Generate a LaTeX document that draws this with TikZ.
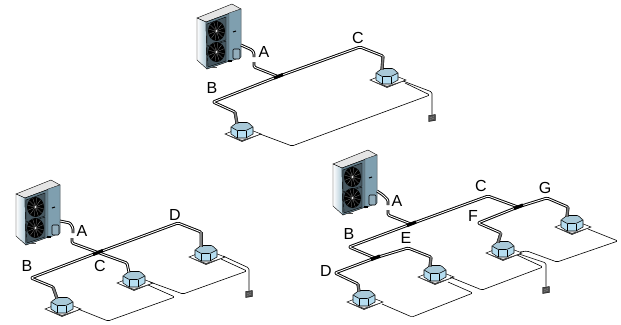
\documentclass[tikz,border=0pt]{standalone}
\usepackage{fontspec}
\setmainfont{Liberation Sans}
\usetikzlibrary{calc}
\definecolor{panelblue}{HTML}{7F9FAF}
\definecolor{sideblue}{HTML}{A9C4D2}
\definecolor{iduside}{HTML}{B5DDF0}
\definecolor{idutop}{HTML}{A9C9D8}
\tikzset{
  x=1pt,y=-1pt,
  pipe/.style={draw=black,line width=.95pt,double=white,double distance=.9pt,rounded corners=1.2pt,line join=round},
  drop/.style={draw=black!85,line width=.7pt,double=black!50,double distance=1.6pt},
  joint/.style={draw=black,line width=3.2pt},
  wire/.style={draw=black,line width=.6pt,rounded corners=1.5pt},
  lbl/.style={font=\fontsize{16}{16}\selectfont,inner sep=0pt,text=black},
}
\newcommand{\oduunit}[3]{%
\begin{scope}[shift={(#2,#3)}]
 \coordinate (#1out) at (44,27);
 \fill[black!10,draw=black,line width=.4pt] (0,0)--(35,-14)--(44,-9)--(9,4)--cycle;
 \shade[left color=white,right color=sideblue,draw=black,line width=.4pt] (0,0)--(9,4)--(10,51)--(0,42)--cycle;
 \fill[panelblue!80!black,draw=black,line width=.4pt] (9,4)--(44,-9)--(44,39)--(10,51)--cycle;
 \fill[panelblue,draw=black!70,line width=.4pt] (32,-5)--(44,-9)--(44,39)--(32,44)--cycle;
 \fill[panelblue!55!black,draw=black,line width=.4pt] (10,6)--(29,-1)--(29,22)--(10,28)--cycle;
 \fill[panelblue!55!black,draw=black,line width=.4pt] (10,29)--(29,23)--(29,43)--(11,49)--cycle;
 \foreach \cy in {13,34}{
  \fill[black] (19.5,\cy) ellipse [x radius=8.5,y radius=10];
  \foreach \a in {10,40,...,340}
   \draw[black!40,line width=.2pt] (19.5,\cy)--++({8*cos(\a)},{9.5*sin(\a)});
  \fill[white] (19.5,\cy) circle (.9);
 }
 \draw[black,line width=1pt] (36,14)--(39,13);
 \draw[black,line width=.6pt,fill=panelblue!85!white,rounded corners=1pt] (36,31) rectangle (43,41);
 \fill[black] (31,42) rectangle (35,43.5);
 \fill[black!70] (14,49) rectangle (20,50);
\end{scope}}
\newcommand{\iduunit}[3]{%
\begin{scope}[shift={(#2,#3)}]
 \coordinate (#1) at (0,0);
 \coordinate (#1drop) at (-6,-10.5);
 \fill[white,draw=black,line width=.5pt] (-18,0)--(0,-7)--(18,0)--(-1,7.5)--cycle;
 \fill[black!75] (-18,0)--(-1,7.5)--(18,0)--(-1,6)--cycle;
 \fill[iduside,draw=black,line width=.55pt] (-12,-7)--(-12,0)--(-6,4)--(3,4)--(10,0)--(10,-7)--cycle;
 \fill[idutop,draw=black,line width=.55pt,rounded corners=1pt] (-12,-7)--(-6,-11.5)--(5,-11.5)--(10,-7)--(3,-3.5)--(-6,-3.5)--cycle;
 \draw[black,line width=.7pt] (-6,-3.5)--(-6,4) (3,-3.5)--(3,4);
\end{scope}}
\newcommand{\remoteunit}[3]{%
\begin{scope}[shift={(#2,#3)}]
 \coordinate (#1) at (0,-3.5);
 \fill[black!70,draw=black,line width=.3pt] (-3.5,-2.5)--(3.5,-3.5)--(3.5,2.5)--(-3.5,3.5)--cycle;
 \draw[white!70!black,line width=.35pt] (-2,-.7)--(2,-1.2) (-2,1.2)--(2,.7);
\end{scope}}
\begin{document}
\begin{tikzpicture}
\useasboundingbox (0,0) rectangle (621,324);
% ---------- top system
\coordinate (tj) at (278,76.5);
\coordinate (ta1) at (252,50);\coordinate (ta2) at (254,53);\coordinate (ta3) at (254,57);
\coordinate (ta4) at (254,62);\coordinate (ta5) at (254,67);
\coordinate (tb1) at (213,102);\coordinate (tb2) at (235,112);
\coordinate (tc1) at (360,47);\coordinate (tc2) at (383,56);
\oduunit{ta}{197}{18}
\iduunit{tb}{243}{134}
\iduunit{tc}{388}{80}
\remoteunit{tr}{432}{118}
\draw[pipe] (taout)--(ta1)--(ta2)--(ta3);
\draw[pipe] (ta4)--(ta5)--(tj);
\draw[pipe] (tj)--(tb1)--(tb2)--(tbdrop);
\draw[pipe] (tj)--(tc1)--(tc2)--(tcdrop);
\draw[drop] (tb2)--(tbdrop);\draw[drop] (tc2)--(tcdrop);
\draw[joint] ($(tj)+(-4,1.6)$)--($(tj)+(5,-2)$);
\coordinate (tw1) at (432,92);\coordinate (tw2) at (260,134);\coordinate (tw3) at (292,146);
\coordinate (tw4) at (430,95);\coordinate (tw5) at (405,83);\coordinate (tw6) at (403,81);
\draw[wire] (tw6)--(tw1)--(tr);
\draw[wire] (tw2)--(tw3)--(tw4)--(tw5);
\node[lbl] (tlA) at (264,52) {A};
\node[lbl] (tlB) at (212,88) {B};
\node[lbl] (tlC) at (358,38) {C};
% ---------- left system
\oduunit{la}{16}{194}
\iduunit{lb}{63}{309}
\iduunit{lc}{135}{283}
\iduunit{ld}{207}{257}
\remoteunit{lr}{249}{294}
\coordinate (lj) at (98,252.5);
\coordinate (la1) at (70,223);\coordinate (la2) at (73,228);\coordinate (la3) at (73,233);
\coordinate (la4) at (72,238);\coordinate (la5) at (72,243);
\coordinate (lb1) at (31,278);\coordinate (lb2) at (53,287);
\coordinate (lc1) at (127,263);
\coordinate (ld1) at (178,223);\coordinate (ld2) at (201,232);
\draw[pipe] (laout)--(la1)--(la2)--(la3);
\draw[pipe] (la4)--(la5)--(lj);
\draw[pipe] (lj)--(lb1)--(lb2)--(lbdrop);
\draw[pipe] (lj)--(lc1)--(lcdrop);
\draw[pipe] (lj)--(ld1)--(ld2)--(lddrop);
\draw[drop] (lb2)--(lbdrop);\draw[drop] (ld2)--(lddrop);
\draw[joint] ($(lj)+(-5,2)$)--($(lj)+(5,-2)$);
\coordinate (lw1) at (223,256);\coordinate (lw2) at (249,268);
\coordinate (lw3) at (247,271);\coordinate (lw4) at (183,294);\coordinate (lw5) at (150,282);\coordinate (lw6) at (221,259);
\coordinate (lw7) at (148,285);\coordinate (lw8) at (175,297);\coordinate (lw9) at (108,321);\coordinate (lw10) at (78,309);
\draw[wire] (lw1)--(lw2)--(lr);
\draw[wire] (lw6)--(lw3)--(lw4)--(lw5);
\draw[wire] (lw7)--(lw8)--(lw9)--(lw10);
\node[lbl] (llA) at (82,231) {A};
\node[lbl] (llB) at (27,266) {B};
\node[lbl] (llC) at (100,266) {C};
\node[lbl] (llD) at (175,215) {D};
% ---------- right system
\oduunit{ra}{333}{164}
\iduunit{rd}{365}{302}
\iduunit{re}{436}{277}
\iduunit{rf}{504}{253}
\iduunit{rg}{573}{227}
\remoteunit{rr}{546}{290}
\coordinate (rj) at (411,224);\coordinate (rj2) at (375,258);\coordinate (rj3) at (518,207);
\coordinate (ra1) at (383,195);\coordinate (ra2) at (388,200);\coordinate (ra3) at (388,205);
\coordinate (ra4) at (388,210);\coordinate (ra5) at (388,215);
\coordinate (rb1) at (349,247);
\coordinate (rd1) at (335,273);\coordinate (rd2) at (358,284);
\coordinate (re1) at (408,248);\coordinate (re2) at (431,257);
\coordinate (rc1) at (488,196);
\coordinate (rf1) at (478,223);\coordinate (rf2) at (501,233);
\coordinate (rg1) at (547,198);\coordinate (rg2) at (568,207);
\draw[pipe] (raout)--(ra1)--(ra2)--(ra3);
\draw[pipe] (ra4)--(ra5)--(rj);
\draw[pipe] (rj)--(rb1)--(rj2);
\draw[pipe] (rj2)--(rd1)--(rd2)--(rddrop);
\draw[pipe] (rj2)--(re1)--(re2)--(redrop);
\draw[pipe] (rj)--(rc1)--(rj3);
\draw[pipe] (rj3)--(rf1)--(rf2)--(rfdrop);
\draw[pipe] (rj3)--(rg1)--(rg2)--(rgdrop);
\draw[drop] (rd2)--(rddrop);\draw[drop] (re2)--(redrop);\draw[drop] (rf2)--(rfdrop);\draw[drop] (rg2)--(rgdrop);
\draw[joint] ($(rj)+(-4,1.6)$)--($(rj)+(5,-2)$);
\draw[joint] ($(rj2)+(-4,1.6)$)--($(rj2)+(5,-2)$);
\draw[joint] ($(rj3)+(-4,1.6)$)--($(rj3)+(5,-2)$);
\coordinate (rw1) at (588,229);\coordinate (rw2) at (618,241);\coordinate (rw3) at (557,262);\coordinate (rw4) at (527,251);\coordinate (rw5) at (520,252);
\coordinate (rw6) at (546,263);
\coordinate (rw8) at (517,255);\coordinate (rw9) at (543,267);\coordinate (rw10) at (482,290);\coordinate (rw11) at (450,277);
\coordinate (rw12) at (448,282);\coordinate (rw13) at (473,293);\coordinate (rw14) at (412,317);\coordinate (rw15) at (382,304);
\coordinate (rw16) at (519,254);
\draw[wire] (rw1)--(rw2)--(rw3)--(rw4)--(rw5);
\draw[wire] (rw16)--(rw6)--(rr);
\draw[wire] (rw8)--(rw9)--(rw10)--(rw11);
\draw[wire] (rw12)--(rw13)--(rw14)--(rw15);
\node[lbl] (rlA) at (397,201) {A};
\node[lbl] (rlB) at (349,234) {B};
\node[lbl] (rlC) at (481,186) {C};
\node[lbl] (rlD) at (326,271) {D};
\node[lbl] (rlE) at (406,238) {E};
\node[lbl] (rlF) at (473,216) {F};
\node[lbl] (rlG) at (545,188) {G};
\end{tikzpicture}
\end{document}
